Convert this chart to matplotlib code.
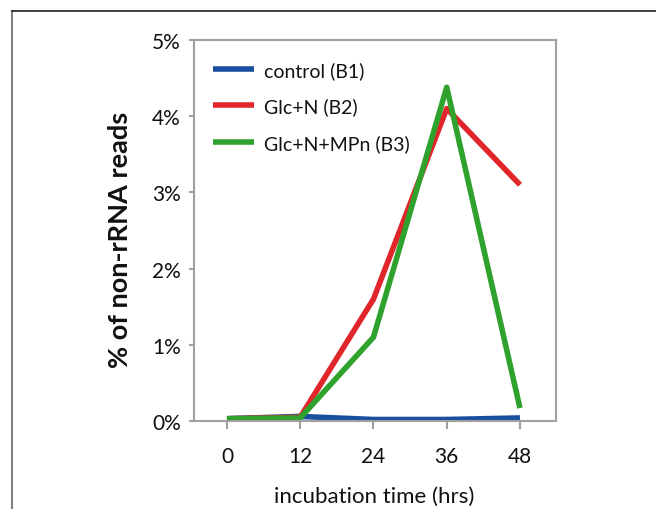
import matplotlib
matplotlib.use("Agg")
from matplotlib import pyplot as plt
from matplotlib.lines import Line2D
import numpy as np

hours = [0, 12, 24, 36, 48]
control_b1 = [0.03, 0.06, 0.02, 0.02, 0.04]
glcn_b2 = [0.03, 0.05, 1.6, 4.1, 3.1]
glcn_mpn_b3 = [0.03, 0.04, 1.1, 4.38, 0.17]
y_ticks = [0, 1, 2, 3, 4, 5]

plt.rcParams["font.family"] = ["Lato", "DejaVu Sans"]

W, H = 656, 510
fig = plt.figure(figsize=(W / 100, H / 100), dpi=100)

# axes box in pixel coords: left 194, right 556, top 41, bottom 422
ax = fig.add_axes([194 / W, 1 - 422 / H, (556 - 194) / W, (422 - 41) / H])

ax.plot(hours, control_b1, color="#1a4fa0", lw=4, label="control (B1)", solid_capstyle="butt")
ax.plot(hours, glcn_b2, color="#e0262b", lw=4, label="Glc+N (B2)", solid_capstyle="butt")
ax.plot(hours, glcn_mpn_b3, color="#2fa12d", lw=4, label="Glc+N+MPn (B3)", solid_capstyle="butt")

ax.set_xlim(-5.4, 53.9)
ax.set_ylim(0, 5)
ax.set_xticks(hours)
ax.set_xticklabels([str(h) for h in hours])
ax.set_yticks(y_ticks)
ax.set_yticklabels(["{}%".format(v) for v in y_ticks])

for s in ax.spines.values():
    s.set_color("#a0a0a0")
    s.set_linewidth(1.5)
ax.tick_params(axis="both", colors="#a0a0a0", width=1.5, labelsize=15,
               labelcolor="#111111")
ax.tick_params(axis="x", length=6, pad=12)
ax.tick_params(axis="y", length=3.6, pad=6)

ax.set_ylabel("% of non-rRNA reads", fontsize=19.5, fontweight="bold", color="#111111")
ax.yaxis.set_label_coords(-0.17, 0.478)
ax.set_xlabel("incubation time (hrs)", fontsize=16, color="#111111")
ax.xaxis.set_label_coords(0.497, -0.171)

leg = ax.legend(loc="upper left", bbox_to_anchor=(213 / W, 1 - 62 / H),
                bbox_transform=fig.transFigure, frameon=False, borderpad=0,
                borderaxespad=0, fontsize=14, handlelength=2.1,
                handletextpad=0.5, labelspacing=0.95)
for t in leg.get_texts():
    t.set_color("#111111")

# outer frame (only left and top are visible in the crop)
fig.add_artist(Line2D([12 / W, 12 / W], [0, 1 - 12 / H], color="#808080", lw=1.5,
                      transform=fig.transFigure))
fig.add_artist(Line2D([12 / W, 1], [1 - 12 / H, 1 - 12 / H], color="#202020", lw=1.2,
                      transform=fig.transFigure))

fig.savefig("out.png", dpi=100)
